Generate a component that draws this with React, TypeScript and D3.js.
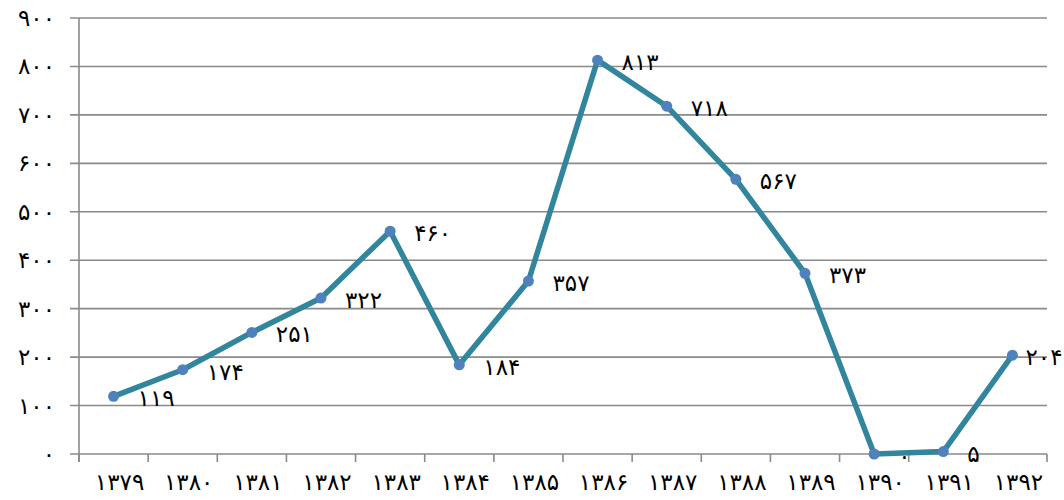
import { useEffect, useRef } from 'react';
import * as d3 from 'd3';

// chart data
const years = ['۱۳۷۹', '۱۳۸۰', '۱۳۸۱', '۱۳۸۲', '۱۳۸۳', '۱۳۸۴', '۱۳۸۵', '۱۳۸۶', '۱۳۸۷', '۱۳۸۸', '۱۳۸۹', '۱۳۹۰', '۱۳۹۱', '۱۳۹۲'];
const values = [119, 174, 251, 322, 460, 184, 357, 813, 718, 567, 373, 0, 5, 204];
const yTicks = [0, 100, 200, 300, 400, 500, 600, 700, 800, 900];

const toPersian = (n: number) => String(n).replace(/\d/g, d => '۰۱۲۳۴۵۶۷۸۹'[+d]);

const W = 1064;
const H = 500;
const FONT = '"DejaVu Sans", sans-serif';

export default function App() {
  const ref = useRef<SVGSVGElement | null>(null);

  useEffect(() => {
    if (!ref.current) return;
    const svg = d3.select(ref.current);
    svg.selectAll('*').remove();

    const margin = { top: 18, right: 17, bottom: 46, left: 79 };
    const x = d3.scaleBand<string>().domain(years).range([margin.left, W - margin.right]);
    const y = d3.scaleLinear().domain([0, 900]).range([H - margin.bottom, margin.top]);
    const cx = (i: number) => (x(years[i]) as number) + x.bandwidth() / 2;

    const textStyle = (sel: d3.Selection<SVGTextElement, any, any, any>) =>
      sel.style('font-family', FONT)
        .style('font-size', '23px')
        .style('letter-spacing', '4px')
        .attr('fill', '#000');

    // gridlines + y tick marks
    svg.append('g')
      .selectAll('line')
      .data(yTicks)
      .enter()
      .append('line')
      .attr('x1', margin.left - 9)
      .attr('x2', W - margin.right)
      .attr('y1', d => y(d))
      .attr('y2', d => y(d))
      .attr('stroke', '#8a8a8a')
      .attr('stroke-width', 1.6);

    // y axis line
    svg.append('line')
      .attr('x1', margin.left).attr('x2', margin.left)
      .attr('y1', y(900)).attr('y2', y(0) + 8)
      .attr('stroke', '#8a8a8a')
      .attr('stroke-width', 1.6);

    // x tick marks at band boundaries
    const bounds = years.map(d => x(d) as number).concat([W - margin.right]);
    svg.append('g')
      .selectAll('line')
      .data(bounds)
      .enter()
      .append('line')
      .attr('x1', d => d).attr('x2', d => d)
      .attr('y1', y(0)).attr('y2', y(0) + 8)
      .attr('stroke', '#8a8a8a')
      .attr('stroke-width', 1.6);

    // y labels
    svg.append('g')
      .selectAll('text')
      .data(yTicks)
      .enter()
      .append('text')
      .attr('x', 55)
      .attr('y', d => y(d))
      .attr('dy', '0.35em')
      .attr('text-anchor', 'end')
      .call(textStyle)
      .text(d => toPersian(d));

    // x labels
    svg.append('g')
      .selectAll('text')
      .data(years)
      .enter()
      .append('text')
      .attr('x', (d, i) => cx(i) + 6)
      .attr('y', y(0) + 36)
      .attr('text-anchor', 'middle')
      .call(textStyle)
      .text(d => d);

    // series line
    const line = d3.line<number>()
      .x((d, i) => cx(i))
      .y(d => y(d));
    svg.append('path')
      .datum(values)
      .attr('d', line)
      .attr('fill', 'none')
      .attr('stroke', '#31859c')
      .attr('stroke-width', 5.5)
      .attr('stroke-linejoin', 'round');

    // markers
    svg.append('g')
      .selectAll('circle')
      .data(values)
      .enter()
      .append('circle')
      .attr('cx', (d, i) => cx(i))
      .attr('cy', d => y(d))
      .attr('r', 5.5)
      .attr('fill', '#4f81bd');

    // data labels
    svg.append('g')
      .selectAll('text')
      .data(values)
      .enter()
      .append('text')
      .attr('x', (d, i) => cx(i) + (i === values.length - 1 ? 13 : 24))
      .attr('y', d => y(d) + 2)
      .attr('dy', '0.35em')
      .call(textStyle)
      .text(d => toPersian(d));
  }, []);

  return (
    <svg
      ref={ref}
      width={W}
      height={H}
      style={{ position: 'absolute', left: 0, top: 0, background: '#fff' }}
    />
  );
}
